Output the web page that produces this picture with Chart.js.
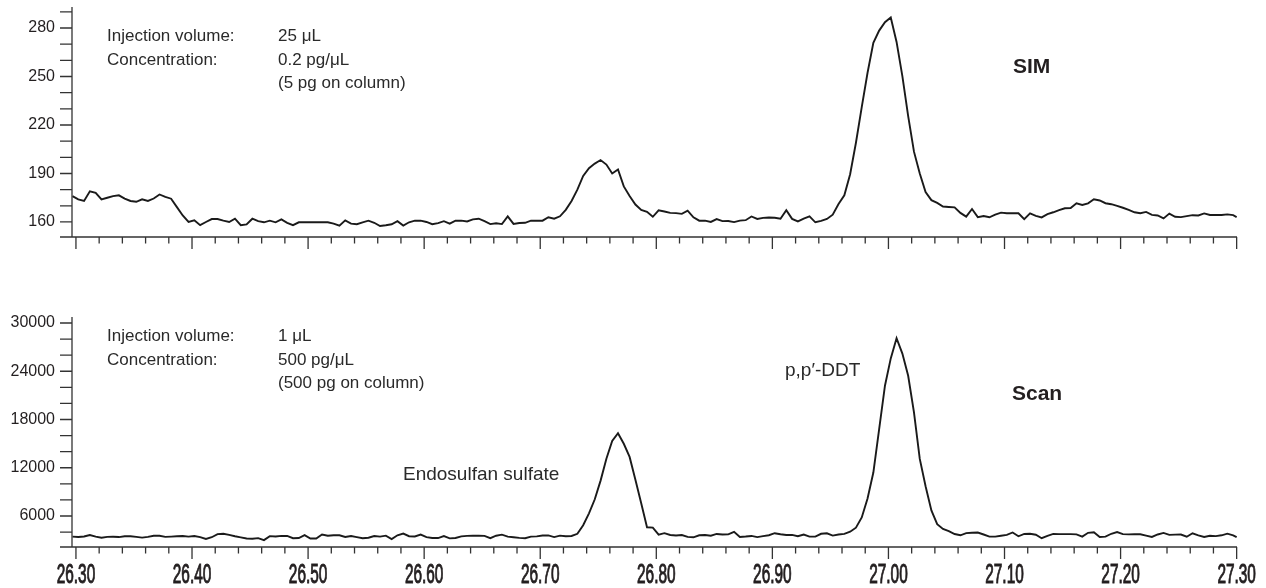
<!DOCTYPE html>
<html>
<head>
<meta charset="utf-8">
<script src="https://cdn.jsdelivr.net/npm/chart.js@4.4.1/dist/chart.umd.min.js"></script>
<style>
  body { margin: 0; background: #fff; width: 1266px; height: 588px; overflow: hidden; position: relative; }
  canvas { position: absolute; left: 0; }
  .note { position: absolute; font-family: "Liberation Sans", Arial, sans-serif; font-size: 17px; line-height: 23.5px; color: #2a2a2a; white-space: pre; }
  .tag { position: absolute; font-family: "Liberation Sans", Arial, sans-serif; color: #2a2a2a; white-space: pre; line-height: 1; }
  .mode { font-weight: bold; font-size: 21px; color: #231f20; }
</style>
</head>
<body>
<canvas id="sim" width="1266" height="262" style="top:0"></canvas>
<canvas id="scan" width="1266" height="298" style="top:290px"></canvas>

<div class="note" style="left:107px; top:24px">Injection volume:
Concentration:</div>
<div class="note" style="left:278px; top:24px">25 μL
0.2 pg/μL
(5 pg on column)</div>
<div class="tag mode" style="left:1013px; top:55px">SIM</div>

<div class="note" style="left:107px; top:324px">Injection volume:
Concentration:</div>
<div class="note" style="left:278px; top:324px">1 μL
500 pg/μL
(500 pg on column)</div>
<div class="tag mode" style="left:1012px; top:382px">Scan</div>
<div class="tag" style="left:403px; top:464px; font-size:19px">Endosulfan sulfate</div>
<div class="tag" style="left:785px; top:360px; font-size:19px">p,p′-DDT</div>

<script>
// retention time (min), shared by both traces
const retentionTime = [
  26.297, 26.302, 26.307, 26.312, 26.317, 26.322, 26.327, 26.332, 26.337, 26.342,
  26.347, 26.352, 26.357, 26.362, 26.367, 26.372, 26.377, 26.382, 26.387, 26.392,
  26.397, 26.402, 26.407, 26.412, 26.417, 26.422, 26.427, 26.432, 26.437, 26.442,
  26.447, 26.452, 26.457, 26.462, 26.467, 26.472, 26.477, 26.482, 26.487, 26.492,
  26.497, 26.502, 26.507, 26.512, 26.517, 26.522, 26.527, 26.532, 26.537, 26.542,
  26.547, 26.552, 26.557, 26.562, 26.567, 26.572, 26.577, 26.582, 26.587, 26.592,
  26.597, 26.602, 26.607, 26.612, 26.617, 26.622, 26.627, 26.632, 26.637, 26.642,
  26.647, 26.652, 26.657, 26.662, 26.667, 26.672, 26.677, 26.682, 26.687, 26.692,
  26.697, 26.702, 26.707, 26.712, 26.717, 26.722, 26.727, 26.732, 26.737, 26.742,
  26.747, 26.752, 26.757, 26.762, 26.767, 26.772, 26.777, 26.782, 26.787, 26.792,
  26.797, 26.802, 26.807, 26.812, 26.817, 26.822, 26.827, 26.832, 26.837, 26.842,
  26.847, 26.852, 26.857, 26.862, 26.867, 26.872, 26.877, 26.882, 26.887, 26.892,
  26.897, 26.902, 26.907, 26.912, 26.917, 26.922, 26.927, 26.932, 26.937, 26.942,
  26.947, 26.952, 26.957, 26.962, 26.967, 26.972, 26.977, 26.982, 26.987, 26.992,
  26.997, 27.002, 27.007, 27.012, 27.017, 27.022, 27.027, 27.032, 27.037, 27.042,
  27.047, 27.052, 27.057, 27.062, 27.067, 27.072, 27.077, 27.082, 27.087, 27.092,
  27.097, 27.102, 27.107, 27.112, 27.117, 27.122, 27.127, 27.132, 27.137, 27.142,
  27.147, 27.152, 27.157, 27.162, 27.167, 27.172, 27.177, 27.182, 27.187, 27.192,
  27.197, 27.202, 27.207, 27.212, 27.217, 27.222, 27.227, 27.232, 27.237, 27.242,
  27.247, 27.252, 27.257, 27.262, 27.267, 27.272, 27.277, 27.282, 27.287, 27.292,
  27.297, 27.300
];

// SIM abundance, 25 uL injection
const simAbundance = [
  176, 174, 173, 179, 178, 174, 175, 176, 176.5, 174.5,
  173, 172.5, 174, 173, 174.5, 177, 175.5, 174.4, 169.2, 164,
  160, 161, 158, 160, 161.8, 161.8, 160.8, 160, 162, 158,
  158.5, 162, 160.5, 159.8, 160.8, 159.8, 161.6, 159.5, 158, 159.8,
  159.8, 159.8, 159.8, 159.8, 159.8, 159, 157.7, 161, 159, 158.6,
  159.8, 160.8, 159.5, 157.5, 158, 158.6, 160.5, 157.8, 159.8, 160.8,
  160.8, 160, 158.6, 159.3, 160.5, 159, 160.8, 160.8, 160.3, 161.6,
  162, 160.5, 158.7, 159.2, 158.7, 163.5, 158.8, 159.4, 159.5, 160.8,
  160.8, 160.8, 162.9, 162, 163.5, 167.5, 173, 180, 188.5, 193.3,
  196.1, 198.3, 195.5, 190, 192.5, 182, 176, 170.8, 167.4, 166.3,
  163.2, 167.2, 166.5, 165.6, 165.5, 165, 167, 162.9, 160.8, 160.8,
  160, 161.8, 160.5, 160.6, 159.9, 160.8, 161.1, 163.4, 161.9, 162.5,
  162.8, 162.6, 162, 167.3, 161.9, 160.3, 162, 163.5, 159.8, 160.7,
  161.9, 164.5, 171.1, 176.5, 189.5, 209, 231, 252.3, 270.8, 278.4,
  283.6, 286.5, 271.4, 250.2, 225.5, 203.5, 190, 178.5, 173.5, 171.8,
  169.6, 169.3, 169, 165.6, 163.3, 168, 163, 163.7, 162.9, 164.5,
  165.8, 165.4, 165.4, 165.4, 161.8, 165.3, 163.8, 162.8, 164.8, 166,
  167.3, 168.5, 168.6, 171.5, 170.5, 171.5, 174, 173.3, 171.6, 171,
  170, 168.8, 167.5, 166, 165.4, 166.2, 164.4, 164, 162.2, 165.2,
  163.2, 163, 163.6, 164.2, 164, 165.3, 164.3, 164.3, 164.3, 164.7,
  164.2, 163
];

// Scan abundance, 1 uL injection
const scanAbundance = [
  3440, 3390, 3450, 3640, 3430, 3300, 3400, 3420, 3380, 3480,
  3490, 3400, 3310, 3410, 3550, 3550, 3410, 3440, 3480, 3510,
  3440, 3520, 3380, 3140, 3360, 3750, 3790, 3650, 3480, 3350,
  3200, 3180, 3250, 3000, 3500, 3460, 3530, 3520, 3240, 3260,
  3620, 3200, 3200, 3700, 3540, 3600, 3600, 3400, 3510, 3380,
  3240, 3300, 3510, 3440, 3560, 3130, 3600, 3810, 3490, 3460,
  3690, 3380, 3270, 3260, 3510, 3220, 3260, 3470, 3530, 3560,
  3550, 3530, 3250, 3550, 3680, 3440, 3360, 3280, 3230, 3440,
  3470, 3570, 3590, 3380, 3560, 3480, 3520, 3790, 4850, 6330,
  8080, 10400, 13130, 15330, 16300, 14980, 13350, 10500, 7580, 4600,
  4560, 3680, 3870, 3640, 3570, 3630, 3400, 3350, 3600, 3630,
  3550, 3770, 3700, 3720, 4030, 3400, 3450, 3520, 3370, 3490,
  3610, 3860, 3730, 3640, 3650, 3480, 3700, 3440, 3440, 3790,
  3850, 3560, 3700, 3775, 4040, 4550, 5820, 8170, 11400, 16800,
  22200, 25600, 28100, 26200, 23440, 18900, 13100, 9700, 6700, 4980,
  4390, 4120, 3760, 3600, 3870, 3920, 3940, 3700, 3440, 3440,
  3540, 3650, 3950, 3480, 3770, 3800, 3670, 3240, 3540, 3770,
  3750, 3740, 3740, 3720, 3440, 3910, 3980, 3380, 3430, 3790,
  4000, 3750, 3710, 3735, 3735, 3560, 3400, 3700, 3900, 3650,
  3680, 3700, 3420, 3850, 3600, 3400, 3550, 3500, 3600, 3800,
  3600, 3370
];

const timeTicks = [26.30, 26.40, 26.50, 26.60, 26.70, 26.80, 26.90, 27.00, 27.10, 27.20, 27.30];
const simTicks = [160, 190, 220, 250, 280];
const scanTicks = [6000, 12000, 18000, 24000, 30000];

const ink = '#231f20';

// axis lines, tick marks and the condensed time labels
const axisMarks = {
  id: 'axisMarks',
  afterDraw(chart) {
    const { ctx, chartArea: a, scales: { x, y } } = chart;
    const o = chart.options.plugins.axisMarks;
    ctx.save();
    ctx.strokeStyle = '#333';
    ctx.lineWidth = 1.3;
    ctx.beginPath();
    ctx.moveTo(a.left, a.top);
    ctx.lineTo(a.left, a.bottom);
    ctx.moveTo(a.left - 12, a.bottom);
    ctx.lineTo(a.right, a.bottom);
    for (let v = o.yFirst; v <= y.max; v += o.yStep) {
      const py = y.getPixelForValue(v);
      ctx.moveTo(a.left - 12, py);
      ctx.lineTo(a.left, py);
    }
    for (let k = 0; k <= 50; k++) {
      const px = x.getPixelForValue(26.30 + k * 0.02);
      ctx.moveTo(px, a.bottom);
      ctx.lineTo(px, a.bottom + (k % 5 === 0 ? 12 : 6.5));
    }
    ctx.stroke();

    if (o.timeLabels) {
      ctx.fillStyle = ink;
      ctx.strokeStyle = ink;
      ctx.lineWidth = 1;
      ctx.font = '27px "Liberation Sans", Arial, sans-serif';
      ctx.textAlign = 'center';
      ctx.textBaseline = 'alphabetic';
      timeTicks.forEach(v => {
        ctx.save();
        ctx.translate(x.getPixelForValue(v), a.bottom + 36);
        ctx.scale(0.57, 1);
        ctx.fillText(v.toFixed(2), 0, 0);
        ctx.strokeText(v.toFixed(2), 0, 0);
        ctx.restore();
      });
    }
    ctx.restore();
  }
};

const noPad = s => { s.paddingTop = 0; s.paddingBottom = 0; s.paddingLeft = 0; s.paddingRight = 0; };

function makeChart(id, values, yTicks, opts) {
  const points = retentionTime.map((t, i) => ({ x: t, y: values[i] }));
  return new Chart(document.getElementById(id), {
    type: 'line',
    data: {
      datasets: [{
        data: points,
        borderColor: '#1a1a1a',
        borderWidth: 1.9,
        pointRadius: 0,
        tension: 0
      }]
    },
    options: {
      responsive: false,
      animation: false,
      layout: { padding: { top: opts.top, right: 29, left: 0, bottom: 0 } },
      plugins: {
        legend: { display: false },
        tooltip: { enabled: false },
        axisMarks: { yFirst: opts.yFirst, yStep: opts.yStep, timeLabels: opts.showX }
      },
      scales: {
        x: {
          type: 'linear',
          min: 26.2966,
          max: 27.3003,
          border: { display: false },
          grid: { display: false, drawTicks: false },
          afterBuildTicks: s => { s.ticks = timeTicks.map(v => ({ value: v })); },
          afterFit: s => { s.height = opts.xHeight; noPad(s); },
          ticks: { display: false }
        },
        y: {
          min: opts.yMin,
          max: opts.yMax,
          border: { display: false },
          grid: { display: false, drawTicks: false },
          afterBuildTicks: s => { s.ticks = yTicks.map(v => ({ value: v })); },
          afterFit: s => { s.width = 72; noPad(s); },
          ticks: {
            padding: 17,
            color: ink,
            font: { family: '"Liberation Sans", Arial, sans-serif', size: 16 },
            callback: v => String(v)
          }
        }
      }
    },
    plugins: [axisMarks]
  });
}

makeChart('sim', simAbundance, simTicks,
  { top: 7, xHeight: 25, yMin: 150.7, yMax: 293, yFirst: 160, yStep: 10, showX: false });
makeChart('scan', scanAbundance, scanTicks,
  { top: 27, xHeight: 41, yMin: 2145, yMax: 30746, yFirst: 4000, yStep: 2000, showX: true });
</script>
</body>
</html>
